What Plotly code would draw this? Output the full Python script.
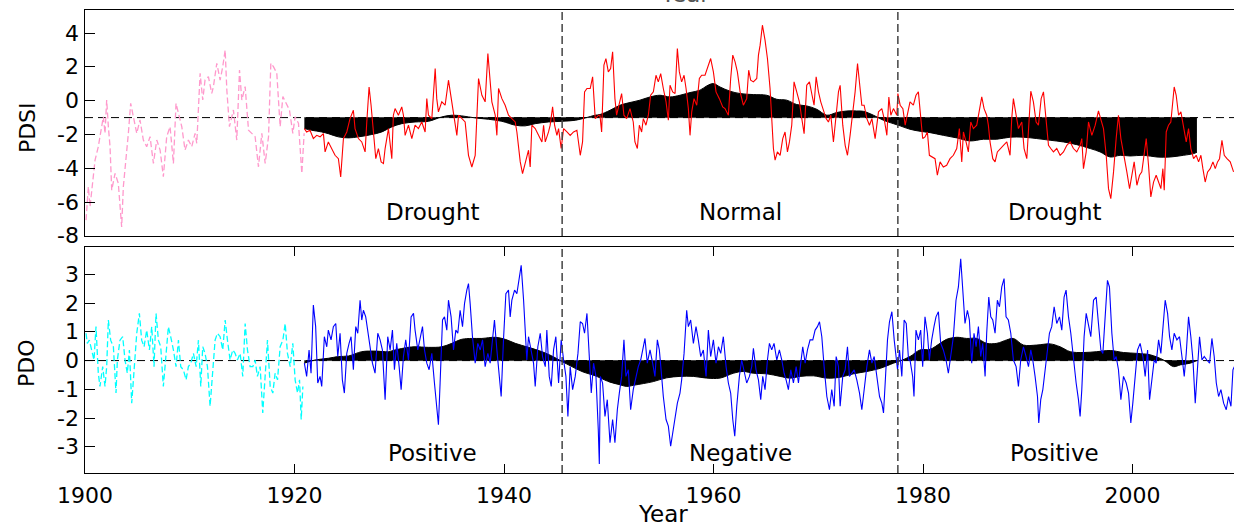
import plotly.graph_objects as go

# ---------------- PDSI (top panel) ----------------
pdsi_early_year = [1900.1, 1900.32, 1900.48, 1900.64, 1900.96, 1901.27, 1901.59, 1901.75, 1901.91, 1902.07,
                   1902.23, 1902.39, 1902.55, 1902.87, 1903.18, 1903.5, 1903.66, 1903.92, 1904.14, 1904.36,
                   1904.62, 1904.94, 1905.25, 1905.57, 1905.89, 1906.21, 1906.53, 1906.85, 1907.17, 1907.48,
                   1907.8, 1908.12, 1908.44, 1908.69, 1908.92, 1909.24, 1909.55, 1909.87, 1910.19, 1910.51,
                   1910.67, 1910.99, 1911.24, 1911.46, 1911.78, 1912.1, 1912.26, 1912.58, 1912.9, 1913.15,
                   1913.38, 1913.54, 1913.79, 1914.17, 1914.49, 1914.75, 1914.97, 1915.29, 1915.61, 1915.92,
                   1916.24, 1916.56, 1916.88, 1917.2, 1917.52, 1917.74, 1917.99, 1918.31, 1918.63, 1918.89,
                   1919.2, 1919.52, 1919.84, 1920.06, 1920.38, 1920.54, 1920.7, 1920.92]
pdsi_early = [-7.06, -5.09, -6.27, -5.29, -3.51, -2.72, -1.54, -0.95, -1.93, 0.04,
              -1.54, -2.72, -5.29, -4.3, -4.89, -7.46, -5.09, -3.51, -1.93, -0.16,
              -0.95, -1.93, -1.14, -2.33, -2.72, -2.13, -3.71, -2.33, -2.92, -4.5,
              -2.13, -1.54, -3.71, -0.16, -0.75, -1.54, -2.92, -2.33, -2.72, -1.93,
              -2.52, 1.62, 0.04, 1.22, 1.42, 0.43, 0.83, 2.21, 1.22, 2.01,
              2.99, 0.63, -1.54, -0.55, -2.33, 1.81, 0.04, 0.83, -1.74, -1.93,
              -2.13, -3.91, -1.93, -3.71, -2.13, 2.21, 2.01, 1.62, -1.54, 0.24,
              -0.16, -0.55, -1.93, -0.95, -1.34, -2.92, -4.3, -1.93]

pdsi_year = [1920.94, 1921.16, 1921.48, 1921.8, 1922.12, 1922.44, 1922.76, 1922.92, 1923.23, 1923.55,
             1923.87, 1924.19, 1924.41, 1924.67, 1924.99, 1925.3, 1925.62, 1925.78, 1926.1, 1926.42,
             1926.74, 1926.9, 1927.12, 1927.31, 1927.53, 1927.76, 1928.01, 1928.27, 1928.49, 1928.65,
             1928.97, 1929.29, 1929.44, 1929.6, 1929.92, 1930.24, 1930.4, 1930.56, 1930.88, 1931.2,
             1931.51, 1931.83, 1932.15, 1932.47, 1932.63, 1932.79, 1933.11, 1933.43, 1933.58, 1933.74,
             1934.06, 1934.38, 1934.7, 1935.02, 1935.34, 1935.5, 1935.66, 1935.97, 1936.29, 1936.61,
             1936.93, 1937.25, 1937.57, 1937.89, 1938.2, 1938.46, 1938.68, 1938.84, 1939.16, 1939.32,
             1939.48, 1939.8, 1940.11, 1940.43, 1940.75, 1941.07, 1941.23, 1941.39, 1941.55, 1941.77,
             1942.02, 1942.34, 1942.5, 1942.66, 1942.98, 1943.3, 1943.62, 1943.78, 1943.94, 1944.25,
             1944.41, 1944.64, 1944.83, 1945.05, 1945.21, 1945.46, 1945.69, 1946.01, 1946.32, 1946.64,
             1946.96, 1947.28, 1947.5, 1947.69, 1947.92, 1948.23, 1948.46, 1948.71, 1949.03,
             1949.16, 1949.32, 1949.54, 1949.73, 1949.96, 1950.18, 1950.37, 1950.59, 1950.75, 1951.01,
             1951.23, 1951.45, 1951.71, 1952.03, 1952.34, 1952.5, 1952.73, 1952.92, 1953.14, 1953.3,
             1953.55, 1953.78, 1954.0, 1954.26, 1954.51, 1954.73, 1954.96, 1955.21, 1955.47, 1955.69,
             1955.85, 1956.1, 1956.33, 1956.55, 1956.74, 1956.96, 1957.19, 1957.38, 1957.6, 1957.76,
             1957.92, 1958.14, 1958.4, 1958.65, 1958.87, 1959.19, 1959.51, 1959.73, 1959.99, 1960.24,
             1960.56, 1960.88, 1961.1, 1961.42, 1961.64, 1961.84, 1962.06, 1962.28, 1962.54, 1962.85,
             1963.17, 1963.36, 1963.55, 1963.81, 1964.13, 1964.29, 1964.45, 1964.67, 1964.92, 1965.15,
             1965.4, 1965.56, 1965.72, 1965.88, 1966.1, 1966.36, 1966.61, 1966.83, 1967.06, 1967.25,
             1967.47, 1967.69, 1967.95, 1968.2, 1968.43, 1968.65, 1968.9, 1969.16, 1969.41, 1969.6,
             1969.8, 1970.02, 1970.24, 1970.5, 1970.75, 1970.97, 1971.2, 1971.45, 1971.71, 1971.93,
             1972.09, 1972.34, 1972.57, 1972.79, 1973.04, 1973.3, 1973.52, 1973.75, 1973.94, 1974.16,
             1974.38, 1974.64, 1974.89, 1975.12, 1975.43, 1975.75, 1976.07, 1976.29, 1976.55, 1976.74,
             1976.93, 1977.18, 1977.5, 1977.6, 1977.82, 1978.08, 1978.3, 1978.52,
             1978.76, 1979.08, 1979.33, 1979.56, 1979.78, 1979.97, 1980.19, 1980.42, 1980.61, 1980.83,
             1981.15, 1981.37, 1981.63, 1981.94, 1982.26, 1982.58, 1982.9, 1983.22, 1983.47, 1983.7,
             1983.86, 1984.11, 1984.33, 1984.56, 1984.81, 1985.13, 1985.45, 1985.61, 1985.83, 1986.08,
             1986.24, 1986.4, 1986.66, 1986.88, 1987.1, 1987.36, 1987.68, 1988.0, 1988.31, 1988.47,
             1988.63, 1988.89, 1989.11, 1989.43, 1989.65, 1989.91, 1990.07, 1990.29, 1990.54, 1990.8,
             1991.02, 1991.28, 1991.5, 1991.75, 1991.98, 1992.2, 1992.45, 1992.77, 1993.09, 1993.41,
             1993.73, 1994.05, 1994.36, 1994.68, 1995.0, 1995.16, 1995.32, 1995.58, 1995.8, 1996.12,
             1996.44, 1996.75, 1996.98, 1997.23, 1997.49, 1997.71, 1997.93, 1998.19, 1998.44, 1998.66,
             1998.89, 1999.14, 1999.46, 1999.72, 1999.94, 2000.16, 2000.42, 2000.67, 2000.89, 2001.12,
             2001.31, 2001.53, 2001.75, 2002.01, 2002.26, 2002.49, 2002.71, 2002.9, 2003.03, 2003.22,
             2003.44, 2003.66, 2003.86, 2003.98, 2004.17, 2004.4, 2004.62, 2004.87, 2005.13, 2005.35,
             2005.57, 2005.83, 2006.08, 2006.31, 2006.53, 2006.72, 2006.94, 2007.17, 2007.42, 2007.68,
             2007.9, 2008.12, 2008.31, 2008.54, 2008.76, 2009.02, 2009.33, 2009.65]
pdsi = [-1.65, -1.85, -1.75, -2.24, -2.05, -2.14, -1.95, -3.03, -2.44, -2.83,
        -3.23, -3.43, -4.51, -2.24, -1.85, -1.06, -0.57, -1.65, -2.24, -2.44,
        -3.03, -1.26, 0.81, -0.27, -1.85, -3.43, -2.83, -3.62, -3.72, -2.83,
        -1.65, -3.43, -0.86, -0.47, -0.86, -0.37, -0.86, -2.05, -1.45, -2.24,
        -1.45, -1.65, -1.26, -1.85, 0.12, -0.86, -1.06, 1.9, 0.12, -0.66,
        -0.07, -0.27, 1.21, -0.07, -1.26, -2.05, -0.86, -1.06, -1.26, -3.23,
        -3.92, -3.23, 1.31, 0.32, -0.07, 2.79, 1.31, -0.07, -0.86, -2.05,
        0.72, 0.12, -0.27, -0.86, -1.06, -1.26, -1.85, -2.83, -3.62, -4.31,
        -3.62, -2.93, -3.92, -1.45, -1.65, -2.05, -2.44, -1.45, -2.44, -1.85,
        -1.45, -0.37, -1.45, -2.05, -1.65, -2.83, -1.65, -1.85, -2.05, -1.85,
        -1.75, -3.23, -2.44, 0.52, 0.72, 0.72, 1.41, -1.06, -0.86,
        -0.86, -1.85, 2.1, 2.49, 1.7, 1.9, 2.89, 0.12, -0.86, -0.07,
        0.42, -0.86, -1.06, -0.47, -1.26, -2.44, -2.83, -1.45, -1.85, -1.06,
        -1.45, -0.86, 0.32, 0.52, 1.5, 1.11, 1.6, 0.72, -0.07, -1.16,
        0.91, 0.52, 0.42, 3.08, 1.7, 1.11, 1.5, 0.72, -0.47, -2.05,
        -0.66, 0.12, -0.27, 1.31, 1.5, 1.5, 2.1, 2.49, 1.7, 0.52,
        0.12, -0.37, -0.47, -0.86, 1.31, 2.69, 2.29, 1.7, 0.52, -0.27,
        0.12, 1.8, 1.21, 1.11, 1.31, 2.69, 3.28, 4.46, 3.58, 2.49,
        0.72, -0.86, -2.83, -3.52, -3.03, -3.23, -2.24, -1.85, -3.03, -2.44,
        -1.45, 1.11, 0.52, -0.07, -1.06, -1.95, 0.91, 1.11, 0.32, -0.27,
        1.41, 0.52, -0.07, -0.66, -1.06, -1.26, -0.86, -2.44, -0.86, 0.52,
        0.91, -1.45, -2.64, -3.23, -2.05, -0.66, 0.52, 2.2, 0.91, -0.27,
        -0.27, -1.06, -1.45, -1.06, -2.24, -0.66, -0.47, -1.06, -2.05, 0.22,
        -0.86, -0.47, -0.86, 0.42, -0.27, -0.47, -1.45, -0.86,
        -0.07, -0.27, 0.32, 0.52, -0.86, -2.24, -2.14, -1.85, -3.23, -3.33,
        -3.43, -4.41, -3.62, -3.92, -3.82, -3.43, -3.23, -2.83, -1.65, -3.62,
        -1.85, -2.44, -3.03, -1.26, -1.65, -1.45, -0.47, 0.22, -0.47, -0.86,
        -1.45, -2.44, -3.43, -3.62, -3.03, -2.83, -2.64, -2.44, -3.23, -1.06,
        0.12, -0.86, -1.65, -1.26, -2.83, -3.43, -1.45, 0.56, -0.07, -1.26,
        -1.45, 0.12, 0.52, -1.06, -2.64, -2.83, -3.03, -2.83, -3.23, -3.03,
        -2.64, -2.44, -2.83, -3.03, -2.64, -2.24, -4.02, -3.03, -1.26, -2.05,
        -1.45, -0.61, -1.06, -1.65, -3.23, -5.2, -5.79, -4.21, -2.24, -0.86,
        -2.24, -3.23, -4.21, -5.2, -4.41, -3.62, -5.0, -4.41, -4.21, -3.03,
        -2.24, -3.82, -5.69, -4.81, -4.41, -4.81, -5.2, -4.02, -5.3, -1.85,
        -1.45, -1.26, -0.07, 0.81, 0.32, -0.86, -0.66, -1.45, -2.44, -1.65,
        -2.83, -3.43, -3.23, -3.62, -3.23, -4.02, -4.81, -4.21, -4.02, -3.62,
        -4.02, -3.62, -3.43, -2.34, -3.23, -3.43, -3.62, -4.21]

pdsi_smooth_year = [1920.94, 1921.64, 1922.6, 1923.23, 1924.19, 1925.15, 1926.1, 1927.37, 1928.33, 1929.29,
                    1930.24, 1931.51, 1932.79, 1934.06, 1935.02, 1935.97, 1937.25, 1938.52, 1939.8, 1941.07,
                    1942.02, 1942.98, 1944.25, 1945.53, 1946.8, 1947.76, 1948.71,
                    1949.16, 1950.12, 1951.07, 1952.03, 1952.98, 1953.94, 1954.89, 1955.85, 1956.8, 1957.76,
                    1958.71, 1959.35, 1959.99, 1960.62, 1961.58, 1962.54, 1963.81, 1965.08, 1966.04, 1966.99,
                    1967.95, 1968.9, 1969.86, 1970.82, 1971.77, 1972.73, 1973.68, 1974.32, 1975.27, 1976.23,
                    1977.18, 1977.82, 1978.76, 1979.72, 1980.67, 1981.94, 1983.22, 1984.49, 1985.77, 1987.04,
                    1988.31, 1989.59, 1990.86, 1992.14, 1993.41, 1994.68, 1995.96, 1996.91, 1997.87, 1998.82,
                    1999.78, 2001.05, 2002.33, 2003.6, 2004.87, 2005.83, 2006.15]
pdsi_smooth = [-1.65, -1.75, -1.85, -1.95, -2.14, -2.2, -2.14, -2.0, -1.85, -1.55,
               -1.36, -1.26, -1.22, -0.96, -0.86, -0.9, -1.02, -1.1, -1.22, -1.45,
               -1.49, -1.36, -1.26, -1.22, -1.16, -1.02, -0.86,
               -0.82, -0.57, -0.27, -0.11, 0.03, 0.22, 0.32, 0.22, 0.32, 0.48,
               0.62, 0.87, 1.01, 0.81, 0.56, 0.42, 0.36, 0.32, 0.08, 0.03,
               -0.23, -0.31, -0.51, -0.86, -0.7, -0.61, -0.61, -0.63, -0.86, -1.16,
               -1.36, -1.49, -1.69, -1.81, -1.89, -2.05, -2.2, -2.38, -2.28, -2.28,
               -2.16, -2.16, -2.24, -2.34, -2.44, -2.6, -2.83, -3.03, -3.33, -3.23,
               -3.27, -3.23, -3.33, -3.33, -3.23, -3.13, -3.05]
pdsi_ref = -1.0

# ---------------- PDO (bottom panel) ----------------
pdo_early_year = [1900.1, 1900.22, 1900.41, 1900.64, 1900.86, 1901.05, 1901.27, 1901.43, 1901.69, 1901.91,
                  1902.07, 1902.23, 1902.45, 1902.71, 1902.96, 1903.09, 1903.34, 1903.6, 1903.82, 1904.04,
                  1904.24, 1904.46, 1904.68, 1904.94, 1905.19, 1905.41, 1905.64, 1905.89, 1906.15, 1906.37,
                  1906.59, 1906.78, 1907.01, 1907.23, 1907.48, 1907.74, 1907.96, 1908.18, 1908.44, 1908.69,
                  1908.92, 1909.14, 1909.39, 1909.65, 1909.87, 1910.1, 1910.35, 1910.61, 1910.83, 1911.05,
                  1911.24, 1911.46, 1911.69, 1911.94, 1912.2, 1912.42, 1912.64, 1912.9, 1913.15, 1913.38,
                  1913.6, 1913.85, 1914.11, 1914.33, 1914.55, 1914.81, 1915.06, 1915.29, 1915.51, 1915.76,
                  1916.02, 1916.24, 1916.46, 1916.72, 1916.97, 1917.2, 1917.42, 1917.68, 1917.93, 1918.15,
                  1918.38, 1918.63, 1918.89, 1919.11, 1919.33, 1919.59, 1919.84, 1920.06, 1920.29, 1920.48,
                  1920.64, 1920.8]
pdo_early = [0.95, 0.6, 0.71, 0.37, 0.02, 1.18, -0.44, -0.9, -0.21, -0.9,
             -0.21, 1.41, 0.71, 0.48, -1.13, 0.02, 0.71, 0.83, 0.02, -0.44,
             0.37, -1.48, -0.44, 0.95, 1.64, 0.71, 0.48, 1.06, 0.37, 1.18,
             -0.21, 1.64, 0.71, 0.48, -0.9, 0.37, 1.18, 0.83, 0.37, -0.21,
             0.71, -0.21, -0.32, -0.67, -0.21, -0.09, 0.25, -0.21, 0.71, -0.9,
             0.48, 0.25, -0.21, -1.59, -0.21, 0.71, 0.95, 0.83, 0.37, 1.41,
             0.71, 0.02, 0.37, 0.25, 0.02, 0.25, -0.55, 1.29, 0.37, -0.21,
             -0.21, 0.02, -0.55, -0.21, -1.82, -0.67, 0.71, -0.9, -1.13, -0.44,
             -0.67, 0.48, 0.71, 1.29, 0.25, -0.21, 0.6, -0.67, -1.13, -0.67,
             -2.05, -0.9]

pdo_year = [1920.94, 1921.16, 1921.39, 1921.58, 1921.8, 1922.02, 1922.22, 1922.44, 1922.6, 1922.85,
            1923.08, 1923.23, 1923.49, 1923.71, 1923.94, 1924.13, 1924.35, 1924.57, 1924.76, 1924.99,
            1925.21, 1925.4, 1925.62, 1925.85, 1926.04, 1926.26, 1926.42, 1926.58, 1926.8, 1926.99,
            1927.22, 1927.44, 1927.69, 1927.95, 1928.17, 1928.39, 1928.65, 1928.9, 1929.13, 1929.35,
            1929.54, 1929.76, 1929.99, 1930.18, 1930.4, 1930.62, 1930.88, 1931.13, 1931.36, 1931.51,
            1931.77, 1931.99, 1932.22, 1932.41, 1932.63, 1932.85, 1933.11, 1933.36, 1933.58, 1933.74,
            1933.9, 1934.13, 1934.32, 1934.54, 1934.7, 1934.95, 1935.18, 1935.4, 1935.59, 1935.81,
            1936.04, 1936.23, 1936.45, 1936.61, 1936.77, 1936.99, 1937.25, 1937.5, 1937.73, 1937.95,
            1938.2, 1938.46, 1938.68, 1938.9, 1939.09, 1939.32, 1939.54, 1939.73, 1939.95, 1940.18,
            1940.43, 1940.59, 1940.75, 1941.01, 1941.23, 1941.45, 1941.64, 1941.87, 1942.02, 1942.18,
            1942.34, 1942.6, 1942.82, 1942.98, 1943.23, 1943.46, 1943.68, 1943.94, 1944.09, 1944.32,
            1944.51, 1944.73, 1944.95, 1945.21, 1945.46, 1945.69, 1945.91, 1946.1, 1946.32, 1946.55,
            1946.8, 1947.06, 1947.28, 1947.5, 1947.69, 1947.92, 1948.14, 1948.33, 1948.55, 1948.78,
            1949.0, 1949.1, 1949.2,
            1949.41, 1949.64, 1949.86, 1950.12, 1950.37, 1950.59, 1950.82, 1951.01, 1951.23, 1951.45,
            1951.64, 1951.87, 1952.09, 1952.34, 1952.6, 1952.82, 1953.05, 1953.3, 1953.46, 1953.68,
            1953.94, 1954.19, 1954.41, 1954.64, 1954.83, 1955.05, 1955.21, 1955.47, 1955.69, 1955.91,
            1956.1, 1956.33, 1956.55, 1956.8, 1956.96, 1957.19, 1957.44, 1957.6, 1957.82, 1958.08,
            1958.33, 1958.55, 1958.78, 1959.03, 1959.29, 1959.51, 1959.73, 1959.99, 1960.24, 1960.47,
            1960.69, 1960.94, 1961.2, 1961.42, 1961.64, 1961.84, 1962.03, 1962.22, 1962.47, 1962.69,
            1962.92, 1963.17, 1963.43, 1963.65, 1963.81, 1964.06, 1964.29, 1964.51, 1964.7, 1964.92,
            1965.15, 1965.34, 1965.56, 1965.78, 1966.04, 1966.29, 1966.52, 1966.74, 1966.93, 1967.15,
            1967.38, 1967.63, 1967.89, 1968.11, 1968.33, 1968.52, 1968.75, 1968.97, 1969.22, 1969.48,
            1969.7, 1969.92, 1970.12, 1970.34, 1970.56, 1970.82, 1971.07, 1971.29, 1971.52, 1971.71,
            1971.93, 1972.09, 1972.34, 1972.57, 1972.79, 1972.98, 1973.2, 1973.43, 1973.68, 1973.94,
            1974.16, 1974.38, 1974.64, 1974.89, 1975.12, 1975.34, 1975.59, 1975.85, 1976.07, 1976.23,
            1976.39, 1976.61, 1976.8, 1977.03, 1977.25, 1977.44, 1977.57, 1977.76, 1977.98, 1978.2,
            1978.4, 1978.62,
            1978.76, 1979.01, 1979.14, 1979.33, 1979.56, 1979.78, 1979.97, 1980.19, 1980.42, 1980.61,
            1980.83, 1981.05, 1981.24, 1981.47, 1981.69, 1981.94, 1982.2, 1982.42, 1982.65, 1982.9,
            1983.15, 1983.38, 1983.6, 1983.79, 1984.01, 1984.24, 1984.43, 1984.65, 1984.87, 1985.07,
            1985.29, 1985.51, 1985.7, 1985.93, 1986.08, 1986.28, 1986.47, 1986.66, 1986.88, 1987.1,
            1987.3, 1987.52, 1987.74, 1987.93, 1988.15, 1988.38, 1988.63, 1988.89, 1989.11, 1989.33,
            1989.59, 1989.84, 1990.07, 1990.29, 1990.48, 1990.7, 1990.93, 1991.05, 1991.24, 1991.44,
            1991.66, 1991.88, 1992.07, 1992.29, 1992.52, 1992.77, 1993.03, 1993.25, 1993.47, 1993.66,
            1993.89, 1994.11, 1994.36, 1994.62, 1994.84, 1995.0, 1995.16, 1995.38, 1995.58, 1995.8,
            1996.02, 1996.28, 1996.53, 1996.75, 1996.98, 1997.17, 1997.39, 1997.61, 1997.8, 1998.03,
            1998.25, 1998.44, 1998.66, 1998.89, 1999.14, 1999.4, 1999.62, 1999.84, 2000.03, 2000.26,
            2000.48, 2000.73, 2000.99, 2001.21, 2001.44, 2001.63, 2001.85, 2002.07, 2002.26, 2002.49,
            2002.71, 2002.9, 2003.12, 2003.35, 2003.54, 2003.76, 2003.98, 2004.24, 2004.49, 2004.72,
            2004.94, 2005.13, 2005.35, 2005.57, 2005.77, 2005.99, 2006.15, 2006.4, 2006.63, 2006.85,
            2007.1, 2007.36, 2007.58, 2007.8, 2008.0, 2008.22, 2008.44, 2008.7, 2008.95, 2009.17,
            2009.4, 2009.59, 2009.72]
pdo = [-0.09, -0.55, 0.37, -0.44, 1.93, 1.18, -0.78, -0.55, -0.9, 0.83,
       0.48, 1.06, 0.72, 1.18, 1.29, 0.14, 0.95, -0.67, -1.13, 0.25,
       0.6, 0.83, -0.32, 1.18, 0.95, 2.1, 1.41, 1.75, 1.52, 1.06,
       0.48, -0.09, -0.44, 0.95, 0.72, 0.37, -1.36, 0.83, 0.37, 1.06,
       -0.32, 0.6, -0.21, -1.01, 0.14, 0.72, 0.02, 1.52, 1.64, 1.06,
       0.37, 0.83, 1.18, 0.37, -0.09, -0.32, 0.25, -0.78, -1.59, -2.23,
       -0.78, 1.41, 1.52, 1.06, 2.1, 1.52, 0.37, 1.06, 0.95, 1.75,
       1.18, 1.98, 2.45, 2.68, 1.98, 0.83, -0.09, 0.6, 0.37, 0.72,
       -0.21, 0.25, -0.09, 0.6, 1.41, 0.37, -0.55, -1.25, 0.72, 2.33,
       2.45, 1.52, 2.1, 2.45, 2.33, 2.79, 3.31, 2.1, 1.06, 0.02,
       0.83, 0.37, -0.09, -0.9, 0.48, 0.95, 0.14, -0.21, 1.06, -0.55,
       -0.9, 0.37, 0.83, -0.78, 0.72, 0.02, -0.55, -1.94, -0.21, -1.01,
       -0.55, 0.25, 1.35, 1.29, 0.95, 1.64, 0.14, -1.13, -0.09, -0.55,
       -2.4, -3.6, -0.55,
       -0.78, -1.94, -1.36, -2.86, -2.05, -2.86, -1.71, -1.13, -0.55, 0.72,
       -0.55, -0.32, -1.71, -1.01, -0.55, -0.21, 0.02, 0.48, 0.77, -0.09,
       0.37, -0.09, -0.55, 0.72, 0.37, -0.55, -1.25, -2.05, -2.28, -2.98,
       -2.51, -1.94, -1.48, -1.13, -0.67, 0.25, 1.75, 1.18, 1.41, 0.6,
       1.18, 0.72, 0.14, 0.37, -0.55, 1.06, 0.14, 0.72, -0.09, 0.48,
       0.25, 0.83, -0.21, -0.78, -1.13, -2.05, -2.63, -1.59, -0.55, 0.02,
       -0.32, -0.78, -0.55, -0.21, 0.43, -0.32, -0.67, -1.36, -0.55, -1.01,
       0.02, 0.6, 0.37, 0.6, 0.02, 0.37, 0.02, -0.44, -0.67, -1.01,
       -0.32, -0.78, -0.21, -0.78, -0.09, 0.48, -0.09, 0.37, 0.72, 0.72,
       1.06, 1.18, 1.35, 0.83, -0.21, -1.25, -1.71, -1.01, -1.59, 0.14,
       -0.21, -1.59, -0.55, -0.32, 0.48, -0.55, -0.44, -0.32, -0.67, -1.13,
       -1.71, -1.01, -0.21, 0.37, -0.09, 0.14, -0.55, -1.25, -1.48, -1.82,
       -0.78, 0.72, 1.35, 1.7, 0.72, 0.14, -0.32, 0.37, -0.55, 1.41,
       1.29, 0.02,
       0.02, -0.55, -1.25, 1.06, 0.72, 1.06, -0.21, 1.52, 0.95, 0.02,
       0.72, 1.18, 1.52, 1.7, 0.6, 0.37, 0.02, -0.44, 0.14, 0.83,
       2.1, 2.56, 3.54, 2.33, 1.29, 1.75, 1.41, -0.09, 0.95, 0.48,
       1.18, 0.14, 0.6, -0.55, 0.95, 2.21, 1.52, 1.41, 0.95, 2.1,
       1.87, 2.56, 2.85, 1.52, 1.41, 0.95, 0.02, -0.21, -0.9, 0.02,
       0.48, 0.14, -0.21, 0.37, 0.02, -0.55, -1.25, -2.17, -1.36, -1.01,
       -0.32, 0.48, 0.95, 1.18, 1.87, 1.29, 1.52, 1.06, 2.21, 2.45,
       1.52, 0.95, 0.02, -0.78, -1.36, -1.94, -1.01, 0.83, 1.64, 1.29,
       0.83, 2.1, 2.21, 1.29, 0.37, 0.25, 1.52, 2.79, 2.56, 0.95,
       0.02, 0.14, -0.32, -1.36, -0.55, -0.78, -1.13, -2.17, -1.48, -0.44,
       0.37, 0.6, 0.14, -0.55, 0.37, -1.36, -0.55, 0.02, -0.09, 0.72,
       0.25, 1.18, 2.1, 1.64, 0.83, 0.37, 0.95, 0.72, 0.83, 0.14,
       -0.55, 0.25, 1.52, 0.83, 0.02, -1.48, -0.44, 0.83, 0.02, 0.14,
       0.02, -0.09, 0.77, 0.14, -0.78, -1.25, -1.01, -1.48, -1.71, -1.25,
       -1.59, -0.32, -0.21]

pdo_smooth_year = [1920.94, 1921.96, 1923.23, 1924.19, 1925.15, 1926.42, 1927.69, 1928.97, 1929.6, 1930.88,
                   1931.51, 1932.79, 1934.06, 1935.02, 1935.97, 1936.93, 1937.89, 1939.16, 1940.11, 1941.07,
                   1942.34, 1943.62, 1944.57, 1945.53, 1946.48, 1947.44, 1948.71,
                   1949.16, 1950.12, 1951.07, 1951.71, 1952.34, 1953.3, 1954.26, 1955.53, 1956.8, 1958.08,
                   1959.35, 1960.62, 1961.9, 1962.85, 1963.81, 1965.08, 1966.36, 1967.31, 1968.27, 1969.54,
                   1970.82, 1972.09, 1973.36, 1974.64, 1975.91, 1977.18, 1977.82,
                   1978.76, 1979.72, 1980.67, 1981.63, 1982.26, 1983.22, 1984.17, 1985.13, 1986.08, 1987.04,
                   1988.0, 1988.63, 1989.59, 1990.86, 1992.14, 1993.09, 1994.05, 1995.32, 1996.59, 1997.87,
                   1999.14, 2000.42, 2001.69, 2002.96, 2003.92, 2004.56, 2005.51, 2006.15]
pdo_smooth = [-0.09, 0.02, 0.08, 0.14, 0.16, 0.31, 0.33, 0.31, 0.37, 0.46,
              0.48, 0.46, 0.48, 0.6, 0.74, 0.77, 0.77, 0.81, 0.74, 0.6,
              0.46, 0.31, 0.16, -0.03, -0.21, -0.38, -0.53,
              -0.6, -0.75, -0.84, -0.9, -0.86, -0.8, -0.73, -0.6, -0.55, -0.55,
              -0.61, -0.61, -0.44, -0.38, -0.44, -0.46, -0.55, -0.61, -0.55, -0.53,
              -0.61, -0.58, -0.46, -0.38, -0.27, -0.09, -0.01,
              0.14, 0.37, 0.39, 0.6, 0.74, 0.81, 0.77, 0.77, 0.6, 0.6,
              0.72, 0.77, 0.54, 0.54, 0.58, 0.48, 0.31, 0.28, 0.31, 0.35,
              0.28, 0.25, 0.2, 0.02, -0.21, -0.15, -0.09, 0.0]
pdo_ref = 0.0

# ---------------- labels ----------------
regime_breaks = [1945.55, 1977.6]
pdsi_labels = ["Drought", "Normal", "Drought"]
pdo_labels = ["Positive", "Negative", "Positive"]
label_years = [1933.2, 1962.6, 1992.6]
x_ticks = [1900, 1920, 1940, 1960, 1980, 2000]
pdsi_ticks = [-8, -6, -4, -2, 0, 2, 4]
pdo_ticks = [-3, -2, -1, 0, 1, 2, 3]
x_range = [1900, 2009.69]

FONT = "DejaVu Sans"
FS = 22

fig = go.Figure()

# --- top panel ---
fig.add_trace(go.Scatter(x=x_range, y=[pdsi_ref, pdsi_ref], mode="lines",
                         line=dict(color="black", width=1, dash="8px,5px"),
                         xaxis="x", yaxis="y", hoverinfo="skip"))
fig.add_trace(go.Scatter(x=pdsi_smooth_year, y=[pdsi_ref] * len(pdsi_smooth_year), mode="lines",
                         line=dict(color="black", width=0.5), xaxis="x", yaxis="y", hoverinfo="skip"))
fig.add_trace(go.Scatter(x=pdsi_smooth_year, y=pdsi_smooth, mode="lines", fill="tonexty",
                         fillcolor="black", line=dict(color="black", width=1, shape="spline"),
                         xaxis="x", yaxis="y"))
fig.add_trace(go.Scatter(x=pdsi_early_year, y=pdsi_early, mode="lines",
                         line=dict(color="#ff99cc", width=1.3, dash="6px,3px"), xaxis="x", yaxis="y"))
fig.add_trace(go.Scatter(x=pdsi_year, y=pdsi, mode="lines",
                         line=dict(color="#ff0000", width=1.1), xaxis="x", yaxis="y"))

# --- bottom panel ---
fig.add_trace(go.Scatter(x=x_range, y=[pdo_ref, pdo_ref], mode="lines",
                         line=dict(color="black", width=1, dash="8px,5px"),
                         xaxis="x2", yaxis="y2", hoverinfo="skip"))
fig.add_trace(go.Scatter(x=pdo_smooth_year, y=[pdo_ref] * len(pdo_smooth_year), mode="lines",
                         line=dict(color="black", width=0.5), xaxis="x2", yaxis="y2", hoverinfo="skip"))
fig.add_trace(go.Scatter(x=pdo_smooth_year, y=pdo_smooth, mode="lines", fill="tonexty",
                         fillcolor="black", line=dict(color="black", width=1, shape="spline"),
                         xaxis="x2", yaxis="y2"))
fig.add_trace(go.Scatter(x=pdo_early_year, y=pdo_early, mode="lines",
                         line=dict(color="#00ffff", width=1.3, dash="6px,3px"), xaxis="x2", yaxis="y2"))
fig.add_trace(go.Scatter(x=pdo_year, y=pdo, mode="lines",
                         line=dict(color="#0000ff", width=1.1), xaxis="x2", yaxis="y2"))

shapes = []
for xb in regime_breaks:
    for xr, yr in [("x", "y domain"), ("x2", "y2 domain")]:
        shapes.append(dict(type="line", xref=xr, yref=yr, x0=xb, x1=xb, y0=0, y1=1,
                           line=dict(color="#444444", width=1.5, dash="8px,4px")))

def txt(text, x, y, xref, yref, size=FS, color="black", angle=0, xanchor="center", yanchor="middle"):
    return dict(text=text, x=x, y=y, xref=xref, yref=yref, showarrow=False, textangle=angle,
                xanchor=xanchor, yanchor=yanchor, font=dict(family=FONT, size=size, color=color))

annotations = []
for lab, xv in zip(pdsi_labels, label_years):
    annotations.append(txt(lab, xv, -6.6, "x", "y", size=23))
for lab, xv in zip(pdo_labels, label_years):
    annotations.append(txt(lab, xv, -3.22, "x2", "y2", size=23))
# y tick labels (hyphen-minus, right-aligned just left of the axis)
label_x = -4 / 1149
for v in pdsi_ticks:
    annotations.append(txt(str(v), label_x, v, "paper", "y", xanchor="right"))
for v in pdo_ticks:
    annotations.append(txt(str(v), label_x, v, "paper", "y2", xanchor="right"))
annotations += [
    txt("PDSI", -0.0505, 0.747, "paper", "paper", angle=-90),
    txt("PDO", -0.0505, 0.2376, "paper", "paper", angle=-90),
    txt("Year", 0.503, -0.0886, "paper", "paper", size=23),
    txt("Year", 0.522, 1.0025, "paper", "paper", size=23, color="#555555", yanchor="bottom"),
]

axis_common = dict(showgrid=False, zeroline=False, linecolor="black", linewidth=1,
                   tickfont=dict(family=FONT, size=FS, color="black"))

fig.update_layout(
    width=1234, height=526,
    margin=dict(l=85, r=0, t=10, b=53),
    paper_bgcolor="white", plot_bgcolor="white",
    showlegend=False,
    shapes=shapes, annotations=annotations,
    xaxis=dict(domain=[0, 1], range=x_range, anchor="y", showline=True, mirror=True,
               ticks="", showticklabels=False, **axis_common),
    yaxis=dict(domain=[0.5119, 1], range=[-8, 5.36], anchor="x", showline=True, mirror=False,
               ticks="inside", ticklen=10, tickcolor="black", tickvals=pdsi_ticks,
               showticklabels=False, **axis_common),
    xaxis2=dict(domain=[0, 1], range=x_range, anchor="y2", showline=True, mirror="ticks",
                ticks="inside", ticklen=9, tickcolor="black", tickvals=x_ticks,
                ticklabelstandoff=3, **axis_common),
    yaxis2=dict(domain=[0, 0.4875], range=[-3.91, 3.94], anchor="x2", showline=True, mirror=False,
                ticks="inside", ticklen=10, tickcolor="black", tickvals=pdo_ticks,
                showticklabels=False, **axis_common),
)

fig.write_html("out.html", config={"displayModeBar": False},
               post_script="document.body.style.margin='0';")
